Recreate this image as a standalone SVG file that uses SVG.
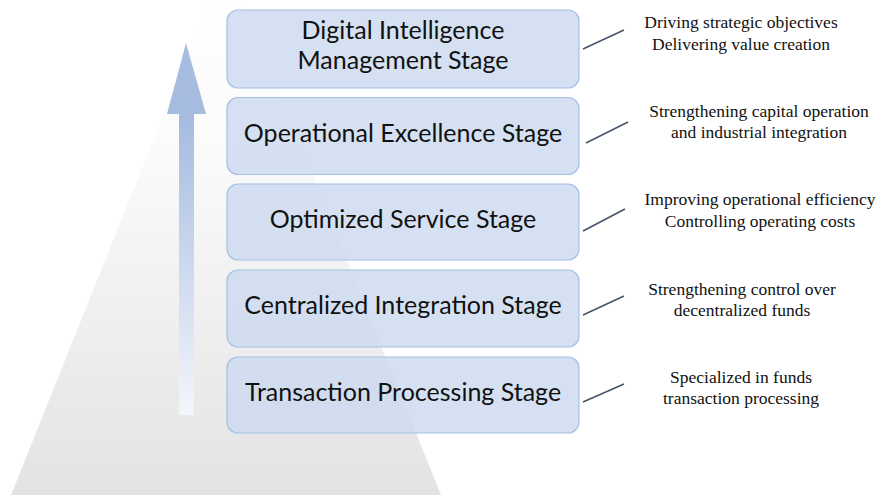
<svg xmlns="http://www.w3.org/2000/svg" width="879" height="495" viewBox="0 0 879 495">
<style>
.box{fill:#ccdaef;fill-opacity:0.82;stroke:#a3c0e6;stroke-width:1.2}
.lbl{font-family:Lato,"Open Sans",sans-serif;font-size:25px;fill:#111;text-anchor:middle}
.note{font-family:"Liberation Serif","Times New Roman",serif;font-size:17.5px;fill:#111;text-anchor:middle}
.con{stroke:#44546a;stroke-width:1.5;fill:none}
</style>
<defs>
<linearGradient id="pyr" x1="0" y1="0" x2="0" y2="1">
<stop offset="0" stop-color="#ffffff"/>
<stop offset="0.35" stop-color="#fbfbfb"/>
<stop offset="1" stop-color="#e3e3e3"/>
</linearGradient>
<linearGradient id="arr" x1="0" y1="0" x2="0" y2="1">
<stop offset="0" stop-color="#a9bde2"/>
<stop offset="0.2" stop-color="#a6bbe0"/>
<stop offset="1" stop-color="#f3f6fc"/>
</linearGradient>
</defs>
<polygon points="226,-41 11,495 441,495" fill="url(#pyr)"/>
<polygon points="186,43 206,114 194,114 194,415 179,415 179,114 167,114" fill="url(#arr)"/>
<g id="stage1"><rect class="box" x="227" y="10" width="352" height="78" rx="11"/>
<text class="lbl" x="403" y="39">Digital Intelligence</text>
<text class="lbl" x="403" y="69">Management Stage</text></g>
<g id="stage2"><rect class="box" x="227" y="97.5" width="352" height="77" rx="11"/>
<text class="lbl" x="403" y="142">Operational Excellence Stage</text></g>
<g id="stage3"><rect class="box" x="227" y="184" width="352" height="76" rx="11"/>
<text class="lbl" x="403" y="228">Optimized Service Stage</text></g>
<g id="stage4"><rect class="box" x="227" y="270" width="352" height="77" rx="11"/>
<text class="lbl" x="403" y="314">Centralized Integration Stage</text></g>
<g id="stage5"><rect class="box" x="227" y="357" width="352" height="76" rx="11"/>
<text class="lbl" x="403" y="401">Transaction Processing Stage</text></g>
<g id="connectors">
<line class="con" x1="583" y1="49" x2="624" y2="30"/>
<line class="con" x1="586" y1="143" x2="628" y2="122"/>
<line class="con" x1="583" y1="231" x2="625" y2="209"/>
<line class="con" x1="583" y1="315" x2="624" y2="296"/>
<line class="con" x1="583" y1="402" x2="624" y2="384"/>
</g>
<g id="note1"><text class="note" x="741" y="28">Driving strategic objectives</text><text class="note" x="741" y="50">Delivering value creation</text></g>
<g id="note2"><text class="note" x="759" y="117">Strengthening capital operation</text><text class="note" x="759" y="138">and industrial integration</text></g>
<g id="note3"><text class="note" x="760" y="205">Improving operational efficiency</text><text class="note" x="760" y="227">Controlling operating costs</text></g>
<g id="note4"><text class="note" x="742" y="295">Strengthening control over</text><text class="note" x="742" y="316">decentralized funds</text></g>
<g id="note5"><text class="note" x="741" y="383">Specialized in funds</text><text class="note" x="741" y="404">transaction processing</text></g>
</svg>
